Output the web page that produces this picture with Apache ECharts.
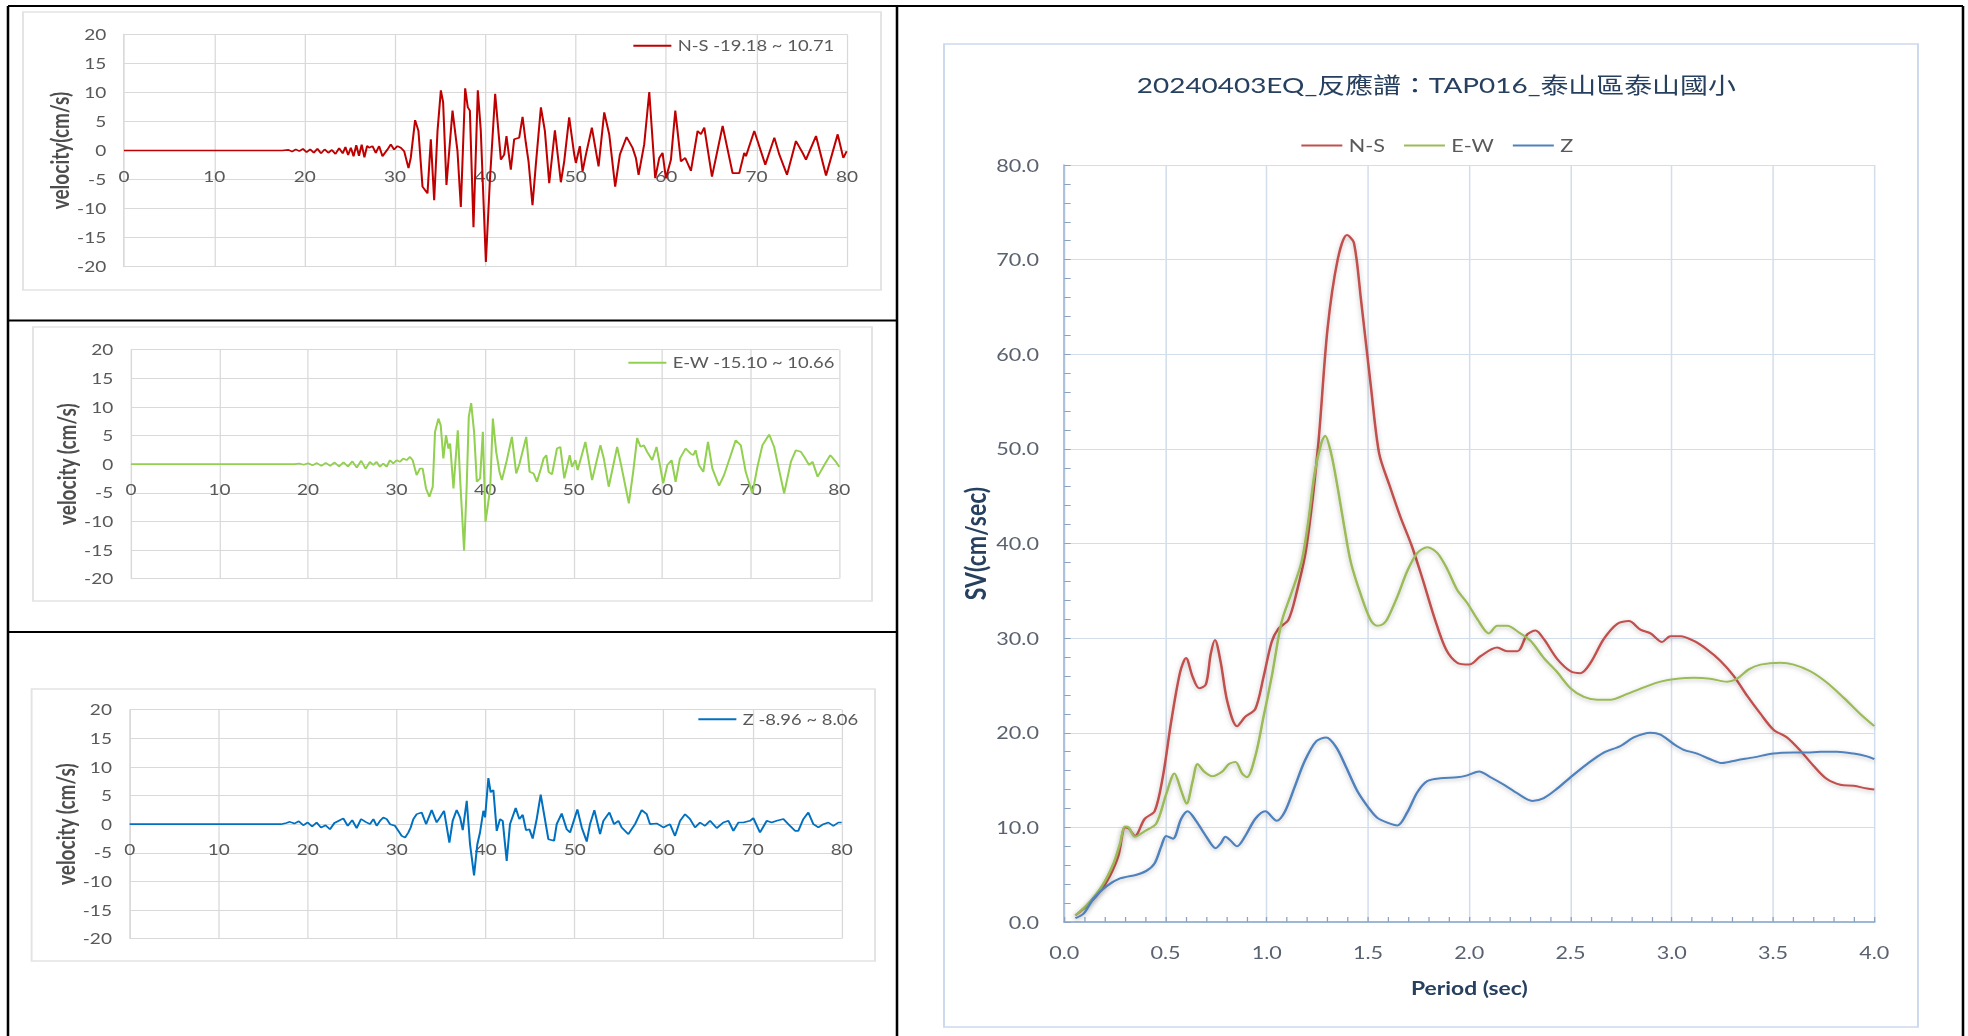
<!DOCTYPE html>
<html><head><meta charset="utf-8">
<script src="https://cdn.jsdelivr.net/npm/echarts@6/dist/echarts.min.js"></script>
<style>
html,body{margin:0;padding:0;background:#fff;overflow:hidden;}
#wrap{width:1968px;height:1036px;overflow:hidden;position:relative;background:#fff;}
#chart{width:1550px;height:1036px;transform:scaleX(1.269677);transform-origin:0 0;}
</style></head><body>
<div id="wrap"><div id="chart"></div></div>
<script>
// ---------------- DATA ----------------
const timeTicks = [0, 10, 20, 30, 40, 50, 60, 70, 80];
const velocityTicks = [-20, -15, -10, -5, 0, 5, 10, 15, 20];
const periodTicks = [0, 0.5, 1, 1.5, 2, 2.5, 3, 3.5, 4];
const svTicks = [0, 10, 20, 30, 40, 50, 60, 70, 80];

const nsName = 'N-S -19.18 ~ 10.71';
const ewName = 'E-W -15.10 ~ 10.66';
const zName = 'Z -8.96 ~ 8.06';
const spectrumTitle = '20240403EQ_反應譜：TAP016_泰山區泰山國小';
const spectrumNames = ['N-S', 'E-W', 'Z'];

// velocity time histories [time (s), velocity (cm/s)]
const nsVelocity = [[0,0],[17.5,0],[18.2,0.1],[18.6,-0.2],[19.0,0.2],[19.4,-0.1],[19.8,0.3],[20.2,-0.3],[20.6,0.2],[21.0,-0.4],[21.4,0.3],[21.8,-0.5],[22.2,0.2],[22.6,-0.4],[23.0,0.1],[23.4,-0.6],[23.8,0.4],[24.2,-0.5],[24.5,0.6],[24.8,-0.8],[25.1,0.5],[25.4,-1.0],[25.7,0.9],[26.0,-0.9],[26.3,1.0],[26.6,-1.2],[26.9,0.8],
[27.12,0.47],[27.49,0.76],[27.86,-0.41],[28.23,0.76],[28.6,-0.99],[29.15,0.17],[29.52,1.05],[29.89,0.17],[30.26,0.76],[30.63,0.47],[31.0,-0.12],[31.48,-3.02],[31.73,-1.28],[32.21,5.23],[32.58,3.37],[33.03,-6.22],[33.58,-7.38],[33.95,1.92],[34.32,-8.55],[34.69,3.37],[35.06,10.35],[35.31,8.31],[35.68,-5.93],[36.35,6.86],[36.9,-0.12],[37.27,-9.71],[37.75,10.71],[38.04,7.44],[38.27,6.86],[38.67,-13.2],[39.15,10.35],[39.48,3.37],[40.04,-19.18],[40.48,-5.35],[41.07,9.77],[41.7,-1.57],[42.07,-0.7],[42.32,2.5],[42.8,-3.31],[43.17,1.92],[43.73,2.21],[44.1,5.81],[44.46,1.34],[44.76,-1.86],[45.2,-9.42],[45.57,-2.44],[46.13,7.44],[46.57,3.37],[47.05,-5.64],[47.68,3.49],[48.34,-5.47],[48.71,-1.86],[49.26,5.7],[49.82,-0.7],[50.0,-2.15],[50.44,0.76],[50.74,-3.6],[51.11,-0.7],[51.77,3.95],[52.51,-2.73],[53.14,6.57],[53.69,2.79],[54.35,-6.22],[54.87,-0.7],[55.61,2.33],[56.27,0.47],[56.64,-1.28],[56.94,-4.19],[57.56,1.05],[58.12,10.06],[58.78,-4.77],[59.23,-1.28],[59.59,-0.41],[59.96,-4.77],[60.52,-1.57],[61.0,6.86],[61.62,-1.86],[62.1,-1.28],[62.73,-3.49],[63.47,3.37],[63.84,2.79],[64.21,3.95],[65.06,-4.48],[66.24,4.24],[67.34,-3.9],[68.08,-3.9],[68.63,-0.41],[68.82,-0.99],[69.74,3.37],[70.96,-2.44],[71.96,2.21],[72.51,-0.7],[73.36,-4.19],[74.35,1.63],[75.09,-0.41],[75.46,-1.57],[76.57,2.5],[77.68,-4.3],[78.97,2.79],[79.59,-1.28],[79.96,-0.12]];

const ewVelocity = [[0,0],[18.5,0],[19.0,0.1],[19.5,-0.1],[20.0,0.15],[20.5,-0.2],[21.0,0.2],[21.5,-0.3],[22.0,0.25],[22.5,-0.3],[23.0,0.3],[23.5,-0.4],[24.0,0.35],[24.5,-0.4],[25.0,0.5],[25.5,-0.6],[26.0,0.6],[26.5,-0.8],
[26.98,0.41],[27.36,-0.17],[27.74,0.41],[28.11,-0.47],[28.49,0.12],[28.87,-0.47],[29.25,0.7],[29.62,0.12],[30.0,0.7],[30.38,0.41],[30.75,0.99],[31.13,0.7],[31.51,1.28],[31.81,0.7],[32.26,-1.92],[32.64,-0.76],[32.94,-0.76],[33.32,-4.24],[33.7,-5.7],[34.08,-3.95],[34.34,5.64],[34.72,7.97],[34.98,6.8],[35.28,0.99],[35.58,5.06],[35.85,2.73],[36.04,3.6],[36.42,-4.24],[36.91,5.93],[37.17,-2.5],[37.62,-15.1],[37.92,-3.66],[38.15,8.26],[38.42,10.66],[38.75,5.64],[39.06,-3.08],[39.43,-2.5],[39.74,5.64],[40.04,-10.06],[40.26,-7.73],[40.57,-4.24],[40.87,7.97],[41.25,2.15],[41.62,-1.34],[41.89,-2.79],[42.45,0.7],[43.02,4.77],[43.51,-1.63],[43.89,0.12],[44.64,4.77],[45.02,-1.34],[45.47,-1.63],[45.85,-3.08],[46.3,-0.76],[46.6,0.99],[46.91,1.57],[47.17,-1.34],[47.55,-1.8],[48.11,2.73],[48.49,3.02],[48.94,-2.5],[49.55,1.57],[49.81,-0.47],[50.19,0.7],[50.45,-1.05],[51.32,3.9],[52.08,-2.79],[53.02,3.31],[53.4,0.99],[53.96,-3.95],[54.91,3.02],[55.36,-0.17],[56.23,-6.86],[56.72,-1.34],[57.17,4.59],[57.55,3.02],[57.92,3.31],[58.3,2.15],[58.87,0.7],[59.36,3.02],[59.74,-0.17],[60.11,-3.37],[60.57,-0.17],[61.06,0.7],[61.51,-3.08],[62.0,0.99],[62.64,2.73],[63.21,1.86],[63.51,1.57],[63.77,2.44],[64.15,-0.17],[64.64,-1.34],[65.17,3.9],[65.66,-0.76],[66.42,-3.78],[66.98,-1.92],[67.55,0.7],[68.3,4.19],[68.87,3.31],[69.43,-1.34],[70.19,-5.12],[70.75,-0.47],[71.32,3.31],[72.08,5.17],[72.64,3.02],[73.77,-5.12],[74.53,0.41],[75.09,2.44],[75.66,2.15],[76.04,1.28],[76.6,-0.17],[76.98,0.41],[77.55,-2.21],[78.3,-0.17],[78.98,1.57],[79.62,0.41],[80.0,-0.47]];

const zVelocity = [[0,0],[17.0,0],[17.6,0.2],[18.0,0.4],[18.5,0.1],[19.0,0.5],[19.5,-0.2],[20.0,0.3],[20.5,-0.4],[21.0,0.3],[21.5,-0.6],[22.0,-0.2],[22.5,-0.9],[23.0,0.2],[23.5,0.6],[24.0,1.0],[24.5,-0.3],[25.0,0.7],[25.5,-0.7],[26.0,0.9],[26.5,0.4],
[27.0,0],[27.38,0.88],[27.75,-0.29],[28.13,0.58],[28.5,1.17],[28.88,0.88],[29.25,0],[29.81,-0.29],[30.19,-1.17],[30.56,-2.05],[30.94,-2.34],[31.31,-1.46],[31.57,-0.58],[31.87,0.88],[32.25,1.75],[32.81,2.05],[33.3,0],[33.93,2.46],[34.49,0.29],[34.87,1.17],[35.32,2.34],[35.92,-3.22],[36.29,0.58],[36.74,2.46],[37.12,1.17],[37.42,-1.05],[37.87,4.09],[38.24,-3.51],[38.69,-8.96],[39.06,-3.51],[39.36,-1.46],[39.74,2.34],[39.93,1.17],[40.3,8.06],[40.56,5.56],[40.86,5.96],[41.24,-1.17],[41.61,0.88],[41.91,0.58],[42.36,-6.43],[42.73,0],[43.37,2.81],[43.78,0.88],[44.16,1.64],[44.53,-1.05],[44.91,-0.88],[45.28,-2.51],[45.73,0.88],[46.18,5.15],[46.59,1.46],[47.04,-2.63],[47.68,-2.92],[47.98,0],[48.54,1.87],[49.1,-0.88],[49.48,-1.46],[50.3,2.57],[50.79,-0.58],[51.35,-3.04],[51.72,0],[52.21,2.46],[52.85,-1.75],[53.22,0.58],[53.9,2.05],[54.42,0],[54.91,0.58],[55.28,-0.58],[56.03,-1.75],[56.78,0],[57.53,2.46],[58.09,1.75],[58.46,0],[59.21,0.12],[59.96,-0.58],[60.71,0],[61.27,-2.05],[61.84,0.58],[62.4,1.75],[62.96,0.88],[63.52,-0.58],[64.08,0.29],[64.64,-0.29],[65.21,0.58],[65.96,-0.7],[66.7,0.29],[67.27,0.58],[67.83,-1.17],[68.39,0.29],[68.95,0.29],[69.7,0.58],[70.07,1.05],[70.82,-1.46],[71.57,0.58],[72.13,0.29],[72.7,0.58],[73.45,0.88],[74.01,0],[74.76,-1.17],[75.13,-1.17],[75.69,0.88],[76.25,2.05],[76.82,0],[77.38,-0.58],[77.94,0],[78.5,0.29],[79.06,-0.29],[79.63,0.29],[80.0,0.29]];

// response spectra [period (s), SV (cm/s)]
const spectrumNS = [[0.055,0.7],[0.112,1.7],[0.18,3.3],[0.226,4.9],[0.267,7.0],[0.30,10.0],[0.318,9.9],[0.349,9.1],[0.397,10.9],[0.446,11.7],[0.487,15.4],[0.528,21.2],[0.572,26.4],[0.601,27.9],[0.634,25.9],[0.666,24.7],[0.699,25.1],[0.723,28.3],[0.744,29.8],[0.772,27.5],[0.805,23.3],[0.853,20.7],[0.894,21.7],[0.943,22.5],[0.984,25.9],[1.024,29.6],[1.057,31.0],[1.106,31.9],[1.147,34.8],[1.195,39.5],[1.252,50.0],[1.30,62.7],[1.35,70.0],[1.396,72.6],[1.43,71.8],[1.465,65.8],[1.515,56.4],[1.555,49.5],[1.605,46.2],[1.66,42.8],[1.715,39.8],[1.77,36.2],[1.83,32.0],[1.885,28.8],[1.94,27.4],[2.0,27.2],[2.056,28.1],[2.138,29.0],[2.187,28.6],[2.237,28.6],[2.286,30.4],[2.327,30.8],[2.368,29.9],[2.434,27.8],[2.5,26.5],[2.549,26.3],[2.599,27.4],[2.664,29.9],[2.73,31.5],[2.788,31.8],[2.845,30.9],[2.895,30.5],[2.952,29.6],[2.993,30.2],[3.043,30.2],[3.109,29.7],[3.174,28.8],[3.24,27.6],[3.306,26.0],[3.372,23.9],[3.438,22.0],[3.503,20.3],[3.569,19.5],[3.635,18.1],[3.70,16.5],[3.766,15.1],[3.832,14.5],[3.898,14.4],[3.964,14.1],[4.0,14.0]];
const spectrumEW = [[0.055,0.7],[0.12,2.0],[0.186,3.8],[0.243,6.2],[0.275,8.3],[0.30,10.1],[0.318,10.0],[0.349,9.0],[0.397,9.6],[0.454,10.4],[0.503,13.5],[0.544,15.7],[0.577,13.9],[0.604,12.5],[0.634,14.9],[0.658,16.7],[0.69,15.9],[0.731,15.4],[0.78,15.9],[0.813,16.7],[0.845,16.9],[0.878,15.7],[0.902,15.3],[0.943,17.5],[0.984,21.7],[1.024,25.9],[1.073,31.7],[1.122,34.8],[1.171,38.0],[1.204,42.2],[1.236,47.4],[1.269,50.6],[1.288,51.4],[1.318,49.5],[1.35,45.9],[1.383,41.7],[1.415,38.0],[1.464,34.6],[1.513,31.9],[1.546,31.3],[1.575,31.5],[1.595,32.0],[1.645,34.4],[1.694,37.1],[1.743,39.0],[1.793,39.6],[1.842,39.0],[1.891,37.3],[1.94,35.1],[1.99,33.7],[2.04,32.0],[2.097,30.5],[2.138,31.3],[2.187,31.3],[2.245,30.6],[2.303,29.7],[2.368,27.9],[2.434,26.4],[2.5,24.7],[2.566,23.8],[2.632,23.5],[2.697,23.5],[2.78,24.1],[2.862,24.8],[2.944,25.4],[3.026,25.7],[3.109,25.8],[3.19,25.7],[3.273,25.4],[3.322,25.7],[3.38,26.7],[3.438,27.2],[3.536,27.4],[3.602,27.2],[3.684,26.5],[3.766,25.3],[3.849,23.7],[3.93,22.0],[4.0,20.7]];
const spectrumZ = [[0.055,0.4],[0.096,0.9],[0.145,2.5],[0.21,3.8],[0.275,4.6],[0.357,5.0],[0.405,5.4],[0.446,6.2],[0.479,8.0],[0.503,9.1],[0.536,8.8],[0.577,10.9],[0.609,11.7],[0.65,10.7],[0.699,9.1],[0.748,7.8],[0.772,8.3],[0.796,9.0],[0.821,8.6],[0.853,8.0],[0.894,9.1],[0.943,10.9],[0.992,11.7],[1.049,10.7],[1.09,11.7],[1.138,14.3],[1.187,17.0],[1.244,19.1],[1.293,19.5],[1.342,18.5],[1.391,16.4],[1.448,13.8],[1.505,12.0],[1.546,11.0],[1.595,10.5],[1.645,10.2],[1.694,11.6],[1.743,13.7],[1.793,14.9],[1.858,15.2],[1.94,15.3],[1.99,15.5],[2.048,15.9],[2.105,15.3],[2.171,14.5],[2.237,13.6],[2.311,12.8],[2.368,13.1],[2.434,14.1],[2.5,15.3],[2.582,16.7],[2.664,17.9],[2.747,18.6],[2.812,19.5],[2.895,20.0],[2.944,19.8],[3.01,18.8],[3.059,18.2],[3.125,17.8],[3.19,17.2],[3.248,16.8],[3.322,17.1],[3.405,17.4],[3.503,17.8],[3.602,17.9],[3.668,17.9],[3.734,18.0],[3.816,18.0],[3.898,17.8],[3.964,17.5],[4.0,17.2]];

// ---------------- LAYOUT / STYLE ----------------
const S = 1968 / 1550;           // horizontal stretch of the page
const u = x => x / S;            // full-pixel x -> chart x
const FONT = "Lato, 'Noto Sans CJK TC', sans-serif";
const GRAY = '#595959';
const GRID_GRAY = '#d9d9d9';
const NAVY = '#27405f';

const seismoGrids = [
  {left: u(124), right: u(847), top: 34.3, bottom: 266.7},
  {left: u(131), right: u(839.3), top: 349.7, bottom: 578.6},
  {left: u(129.7), right: u(841.7), top: 709.7, bottom: 938.6}
];
const specGrid = {left: u(1064.3), right: u(1874.3), top: 165, bottom: 922};

const grids = seismoGrids.concat([specGrid]).map(g => ({
  left: g.left, top: g.top, width: g.right - g.left, height: g.bottom - g.top, containLabel: false
}));

const seismoDefs = [
  {name: nsName, data: nsVelocity, color: '#c00000', yName: 'velocity(cm/s)', legend: {x: 627, y: 45.5}},
  {name: ewName, data: ewVelocity, color: '#92d050', yName: 'velocity (cm/s)', legend: {x: 622, y: 362.5}},
  {name: zName, data: zVelocity, color: '#0070c0', yName: 'velocity (cm/s)', legend: {x: 692, y: 719}}
];

const xAxes = [], yAxes = [], series = [], legends = [];
seismoDefs.forEach((d, i) => {
  const g = seismoGrids[i];
  const zeroY = (g.top + g.bottom) / 2;   // velocity 0 lies mid-height (range -20..20)
  xAxes.push({
    gridIndex: i, type: 'value', position: 'bottom',
    offset: -(g.bottom - zeroY),
    min: timeTicks[0], max: timeTicks[timeTicks.length - 1], interval: timeTicks[1] - timeTicks[0],
    axisLine: {onZero: false, lineStyle: {color: GRID_GRAY, width: 1}},
    axisTick: {show: false},
    axisLabel: {color: GRAY, fontSize: 15, fontFamily: FONT, margin: 18},
    splitLine: {show: true, lineStyle: {color: GRID_GRAY, width: 1}}
  });
  yAxes.push({
    gridIndex: i, type: 'value',
    min: velocityTicks[0], max: velocityTicks[velocityTicks.length - 1], interval: velocityTicks[1] - velocityTicks[0],
    axisLine: {show: true, lineStyle: {color: GRID_GRAY, width: 1}},
    axisTick: {show: false},
    axisLabel: {color: GRAY, fontSize: 15, fontFamily: FONT, margin: 14},
    splitLine: {show: true, lineStyle: {color: GRID_GRAY, width: 1}},
    name: d.yName, nameLocation: 'middle', nameGap: 35,
    nameTextStyle: {color: '#4d4d4d', fontSize: 19, fontWeight: 'bold', fontFamily: FONT}
  });
  series.push({
    name: d.name, type: 'line', xAxisIndex: i, yAxisIndex: i, data: d.data,
    showSymbol: false, symbol: 'none', smooth: false,
    lineStyle: {color: d.color, width: 1.6}, itemStyle: {color: d.color}
  });
  legends.push({
    data: [d.name], left: u(d.legend.x), top: d.legend.y - 12, icon: 'rect',
    itemWidth: u(38), itemHeight: 2, itemGap: 10,
    textStyle: {color: GRAY, fontSize: 14.5, fontFamily: FONT}
  });
});

// spectrum axes
xAxes.push({
  gridIndex: 3, type: 'value',
  min: periodTicks[0], max: periodTicks[periodTicks.length - 1], interval: periodTicks[1] - periodTicks[0],
  axisLine: {show: true, onZero: false, lineStyle: {color: '#9fb7d6', width: 2}},
  axisTick: {show: true, inside: true, length: 5, lineStyle: {color: '#8aa2c2'}},
  minorTick: {show: true, splitNumber: 5, length: 5, lineStyle: {color: '#8aa2c2'}},
  axisLabel: {color: '#5a6270', fontSize: 17, fontFamily: FONT, margin: 22, formatter: v => v.toFixed(1)},
  splitLine: {show: true, lineStyle: {color: '#d3deec', width: 1.2}},
  name: 'Period (sec)', nameLocation: 'middle', nameGap: 57,
  nameTextStyle: {color: NAVY, fontSize: 18, fontWeight: 'bold', fontFamily: FONT}
});
yAxes.push({
  gridIndex: 3, type: 'value',
  min: svTicks[0], max: svTicks[svTicks.length - 1], interval: svTicks[1] - svTicks[0],
  axisLine: {show: true, lineStyle: {color: '#a9c0dc', width: 1.5}},
  axisTick: {show: true, inside: true, length: 5, lineStyle: {color: '#8aa2c2'}},
  minorTick: {show: true, splitNumber: 5, length: 5, lineStyle: {color: '#8aa2c2'}},
  axisLabel: {color: '#5a6270', fontSize: 17, fontFamily: FONT, margin: 20, formatter: v => v.toFixed(1)},
  splitLine: {show: true, lineStyle: {color: '#d3deec', width: 1.2}},
  name: 'SV(cm/sec)', nameLocation: 'middle', nameGap: 59,
  nameTextStyle: {color: NAVY, fontSize: 23, fontWeight: 'bold', fontFamily: FONT}
});
const specColors = ['#c0504d', '#9bbb59', '#4f81bd'];
[spectrumNS, spectrumEW, spectrumZ].forEach((data, k) => {
  series.push({
    name: spectrumNames[k], type: 'line', xAxisIndex: 3, yAxisIndex: 3, data: data,
    showSymbol: false, symbol: 'none', smooth: 0.3,
    lineStyle: {color: specColors[k], width: 2, shadowBlur: 4, shadowColor: 'rgba(0,0,0,0.25)', shadowOffsetY: 1.5},
    itemStyle: {color: specColors[k]}
  });
});
legends.push({
  data: spectrumNames, left: u(1295), top: 146 - 14, icon: 'rect',
  itemWidth: u(41), itemHeight: 2, itemGap: 15,
  textStyle: {color: GRAY, fontSize: 17, fontFamily: FONT}
});

// frames & table borders
const frame = (x1, y1, x2, y2, color) => ({
  type: 'rect', silent: true, z: -10,
  shape: {x: u(x1), y: y1, width: u(x2) - u(x1), height: y2 - y1},
  style: {fill: '#fff', stroke: color, lineWidth: 1.5}
});
const bline = (x1, y1, x2, y2) => ({
  type: 'line', silent: true, z: 100,
  shape: {x1: u(x1), y1: y1, x2: u(x2), y2: y2},
  style: {stroke: '#000', lineWidth: 2}
});
const graphics = [
  frame(23, 12, 881, 290, '#e3e3e3'),
  frame(33, 327, 872, 601, '#e3e3e3'),
  frame(31.6, 689, 875, 961, '#e3e3e3'),
  frame(944, 44, 1918, 1027, '#cbd9ec'),
  bline(8, 6, 1963, 6),
  bline(8, 6, 8, 1036),
  bline(897, 6, 897, 1036),
  bline(1963, 6, 1963, 1036),
  bline(8, 320.5, 897, 320.5),
  bline(8, 632, 897, 632)
];

const option = {
  animation: false,
  backgroundColor: '#fff',
  textStyle: {fontFamily: FONT},
  title: {
    text: spectrumTitle, left: u(1430), top: 68, textAlign: 'center',
    textStyle: {color: NAVY, fontSize: 22, fontWeight: 'normal', fontFamily: FONT}
  },
  grid: grids,
  xAxis: xAxes,
  yAxis: yAxes,
  legend: legends,
  series: series,
  graphic: graphics
};

const chart = echarts.init(document.getElementById('chart'), null, {renderer: 'svg', width: 1550, height: 1036});
chart.setOption(option);
</script>
</body></html>
